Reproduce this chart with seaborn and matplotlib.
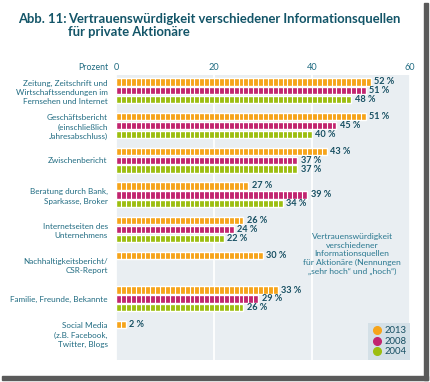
import numpy as np
import pandas as pd
import seaborn as sns
import matplotlib.pyplot as plt
from matplotlib.lines import Line2D
from matplotlib.patches import Rectangle

categories = [
    'Zeitung, Zeitschrift und\nWirtschaftssendungen im\nFernsehen und Internet',
    'Geschäftsbericht\n(einschließlich\nJahresabschluss)',
    'Zwischenbericht',
    'Beratung durch Bank,\nSparkasse, Broker',
    'Internetseiten des\nUnternehmens',
    'Nachhaltigkeitsbericht/\nCSR-Report',
    'Familie, Freunde, Bekannte',
    'Social Media\n(z.B. Facebook,\nTwitter, Blogs',
]
years = ['2013', '2008', '2004']
vals_2013 = [52, 51, 43, 27, 26, 30, 33, 2]
vals_2008 = [51, 45, 37, 39, 24, np.nan, 29, np.nan]
vals_2004 = [48, 40, 37, 34, 22, np.nan, 26, np.nan]
x_ticks = [0, 20, 40, 60]
colors = ['#f6a41a', '#c2256f', '#9cbe10']
note = ('Vertrauenswürdigkeit\nverschiedener\nInformationsquellen\n'
        'für Aktionäre (Nennungen\n„sehr hoch“ und „hoch“)')
title = 'Vertrauenswürdigkeit verschiedener Informationsquellen\nfür private Aktionäre'

df = pd.DataFrame({
    'Quelle': categories * 3,
    'Jahr': np.repeat(years, len(categories)),
    'Prozent': vals_2013 + vals_2008 + vals_2004,
})

sns.set_style('white')
plt.rcParams['font.family'] = ['Lato', 'DejaVu Sans']

teal = '#216c82'
dark = '#174f62'
bg = '#e9eef2'

fig = plt.figure(figsize=(4.3, 3.82), dpi=100)
ax = fig.add_axes([116/430, 1 - 360/382, (410-116)/430, (360-75)/382])
ax.set_facecolor(bg)

sns.barplot(data=df, y='Quelle', x='Prozent', hue='Jahr', orient='h',
            palette=colors, saturation=1, width=0.77, gap=0.18,
            errorbar=None, legend=False, ax=ax, zorder=2)

# segmented look: white cuts at every percent step
for p in ax.patches:
    w = p.get_width()
    if not np.isfinite(w) or w <= 0:
        continue
    y0 = p.get_y()
    ax.vlines(np.arange(1, w), y0, y0 + p.get_height(), color='white', lw=0.8, zorder=3)

for c in ax.containers:
    labels = ['' if not np.isfinite(v) else f'{v:.0f} %' for v in c.datavalues]
    ax.bar_label(c, labels=labels, padding=2.5, fontsize=6.6, fontweight='bold', color=dark)

ax.set_xlim(0, 60)
ax.set_ylim(7.76, -0.455)
ax.set_xticks(x_ticks)
ax.xaxis.tick_top()
ax.set_xlabel('')
ax.set_ylabel('')
ax.set_axisbelow(True)
ax.grid(axis='x', color='white', lw=1.3, zorder=0)
ax.grid(axis='y', visible=False)
sns.despine(ax=ax, left=True, bottom=True, top=True, right=True)
ax.tick_params(axis='x', length=0, pad=2.5, labelsize=6.6, labelcolor=teal)
ax.tick_params(axis='y', length=0, pad=6, labelsize=5.9, labelcolor=teal)
for t in ax.get_yticklabels():
    t.set_linespacing(1.4)

ax.text(48.2, 4.7, note, ha='center', va='center', fontsize=6.1, color='#2a7890',
        linespacing=1.25)

handles = [Line2D([], [], marker='o', ls='', color=c, markersize=5.5) for c in colors]
leg = ax.legend(handles, years, loc='lower right', borderaxespad=0, fontsize=6.8,
                frameon=True, fancybox=False, handletextpad=0.3, borderpad=0.4,
                labelspacing=0.15, handlelength=1.0, labelcolor=dark)
leg.get_frame().set_facecolor('#d4e0e7')
leg.get_frame().set_edgecolor('none')
leg.get_frame().set_alpha(1)

fig.text(108/430, 1 - 68/382, 'Prozent', ha='right', va='center', fontsize=6.3, color=teal)
fig.text(18/430, 1 - 13/382, 'Abb. 11:', ha='left', va='top', fontsize=9.4,
         fontweight='bold', color='#135568')
fig.text(68/430, 1 - 13/382, title, ha='left', va='top', fontsize=9.4,
         fontweight='bold', color='#135568', linespacing=1.1)

# screenshot frame shadow
fig.patches.append(Rectangle((424/430, 2/382), 4/430, 377/382, transform=fig.transFigure,
                             color='#5a5a5a', zorder=0))
fig.patches.append(Rectangle((2/430, 2/382), 426/430, 4/382, transform=fig.transFigure,
                             color='#5a5a5a', zorder=0))

fig.savefig('out.png', dpi=100)
